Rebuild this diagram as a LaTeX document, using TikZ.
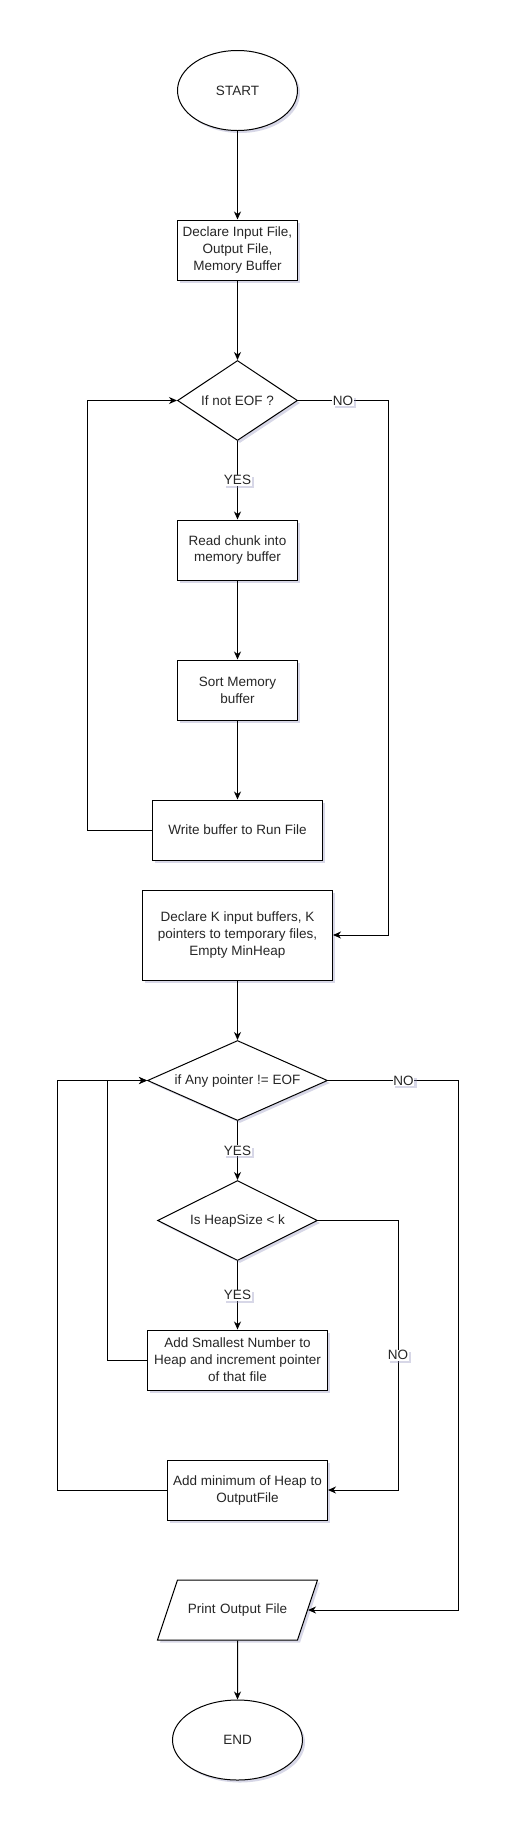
\documentclass[tikz,border=0pt]{standalone}
\usepackage{fontspec}
\setmainfont{Liberation Sans}
\usetikzlibrary{shapes.geometric,shadows,arrows.meta}

\begin{document}
\begin{tikzpicture}[x=1pt,y=-1pt,>={Stealth[length=8pt,width=7pt,inset=2.5pt]},
    every node/.style={font=\fontsize{13.5}{17}\selectfont,text=black!85},
    boxshadow/.style={drop shadow={shadow xshift=2.5pt,shadow yshift=-2.5pt,fill={rgb,255:red,140;green,140;blue,185},opacity=0.35}},
    block/.style={rectangle,draw,fill=white,line width=1pt,align=center,inner sep=2pt,boxshadow},
    terminal/.style={ellipse,draw,fill=white,line width=1pt,inner sep=0pt,boxshadow},
    decision/.style={diamond,draw,fill=white,line width=1pt,inner sep=0pt,boxshadow},
    io/.style={trapezium,trapezium left angle=71.57,trapezium right angle=108.43,
        text width=100pt,align=center,text height=9.5pt,text depth=3pt,inner xsep=10pt,inner ysep=23.75pt,
        draw,fill=white,line width=1pt,boxshadow},
    lbl/.style={fill=white,inner sep=0.5pt,boxshadow}]
    \useasboundingbox (0,0) rectangle (522,1837);

    % run creation
    \node[terminal,minimum width=120pt,minimum height=80pt] (start) at (237.5,90.5) {START};
    \node[block,minimum width=120pt,minimum height=60pt] (declIO) at (237.5,250) {Declare Input File,\\Output File,\\Memory Buffer};
    \node[decision,shape aspect=1.5,minimum width=120pt,minimum height=80pt] (ifEOF) at (237.5,400.5) {If not EOF ?};
    \node[block,minimum width=120pt,minimum height=60pt] (readChunk) at (237.5,550) {Read chunk into\\memory buffer};
    \node[block,minimum width=120pt,minimum height=60pt] (sortBuf) at (237.5,690) {Sort Memory\\buffer};
    \node[block,minimum width=170pt,minimum height=60pt] (writeRun) at (237.5,830) {Write buffer to Run File};

    % k-way merge
    \node[block,minimum width=190pt,minimum height=90pt] (declK) at (237.5,935) {Declare K input buffers, K\\pointers to temporary files,\\Empty MinHeap};
    \node[decision,shape aspect=2.25,minimum width=180pt,minimum height=80pt] (ifAny) at (237.5,1080.5) {if Any pointer != EOF};
    \node[decision,shape aspect=2,minimum width=160pt,minimum height=80pt] (ifHeap) at (237.5,1220.5) {Is HeapSize < k};
    \node[block,minimum width=180pt,minimum height=60pt] (addSmall) at (237.5,1360) {Add Smallest Number to\\Heap and increment pointer\\of that file};
    \node[block,minimum width=160pt,minimum height=60pt] (addMin) at (247.5,1490) {Add minimum of Heap to\\OutputFile};
    \node[io] (printOut) at (237.5,1610) {Print Output File};
    \node[terminal,minimum width=130pt,minimum height=80pt] (stop) at (237.5,1740) {END};

    \draw[->,line width=1pt] (start) -- (declIO);
    \draw[->,line width=1pt] (declIO) -- (ifEOF);
    \draw[->,line width=1pt] (ifEOF) -- node[lbl]{YES} (readChunk);
    \draw[->,line width=1pt] (readChunk) -- (sortBuf);
    \draw[->,line width=1pt] (sortBuf) -- (writeRun);
    \draw[->,line width=1pt] (writeRun.west) -- ++(-65,0) |- (ifEOF.west);
    \draw[->,line width=1pt] (ifEOF.east) -- ++(90,0) node[lbl,midway]{NO} |- (declK.east);

    \draw[->,line width=1pt] (declK) -- (ifAny);
    \draw[->,line width=1pt] (ifAny) -- node[lbl]{YES} (ifHeap);
    \draw[->,line width=1pt] (ifHeap) -- node[lbl]{YES} (addSmall);
    \draw[->,line width=1pt] (addSmall.west) -- ++(-40,0) |- (ifAny.west);
    \draw[->,line width=1pt] (addMin.west) -- ++(-110,0) |- (ifAny.west);
    \draw[->,line width=1pt] (ifHeap.east) -- ++(80,0) |- node[lbl,pos=0.25]{NO} (addMin.east);
    \draw[->,line width=1pt] (ifAny.east) -- ++(130,0) node[lbl,pos=0.58]{NO} |- (printOut.east);
    \draw[->,line width=1pt] (printOut) -- (stop);
\end{tikzpicture}
\end{document}
